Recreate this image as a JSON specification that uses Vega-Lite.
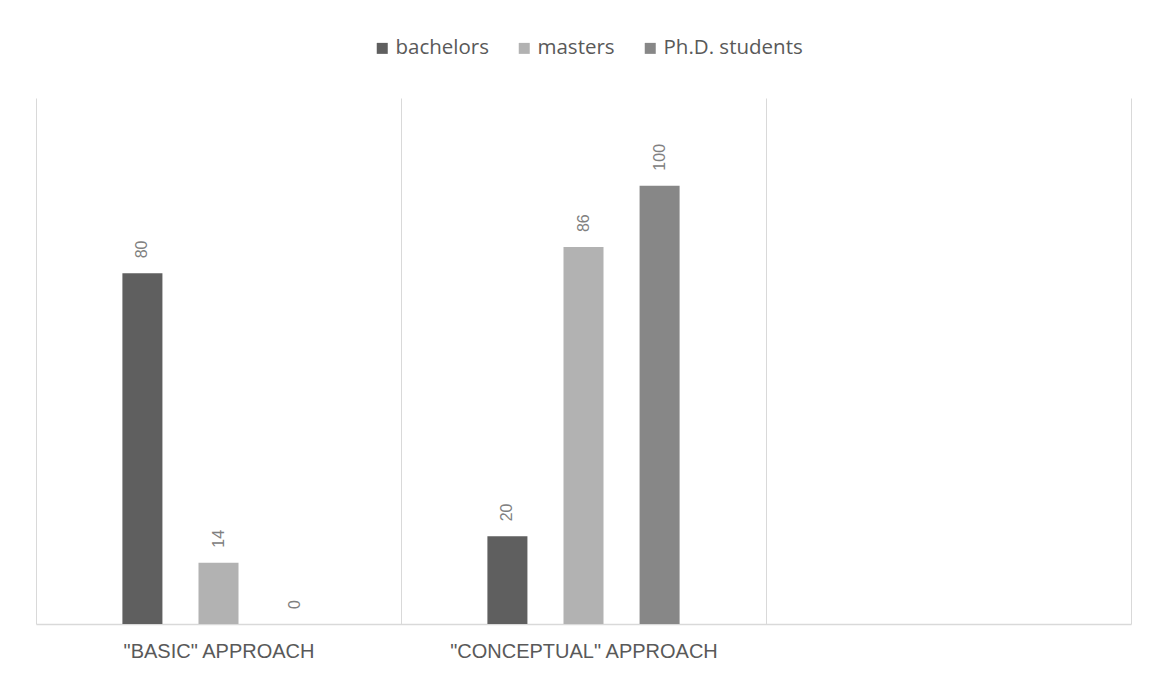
{
  "$schema": "https://vega.github.io/schema/vega-lite/v6.json",
  "width": 1095,
  "height": 526,
  "autosize": {"type": "none"},
  "padding": {"left": 36, "top": 98, "right": 19, "bottom": 52},
  "background": "white",
  "config": {"view": {"stroke": null}},
  "data": {
    "values": [
      {"approach": "\"BASIC\" APPROACH", "group": "bachelors", "value": 80},
      {"approach": "\"BASIC\" APPROACH", "group": "masters", "value": 14},
      {"approach": "\"BASIC\" APPROACH", "group": "Ph.D. students", "value": 0},
      {"approach": "\"CONCEPTUAL\" APPROACH", "group": "bachelors", "value": 20},
      {"approach": "\"CONCEPTUAL\" APPROACH", "group": "masters", "value": 86},
      {"approach": "\"CONCEPTUAL\" APPROACH", "group": "Ph.D. students", "value": 100}
    ]
  },
  "encoding": {
    "x": {
      "field": "approach",
      "type": "nominal",
      "sort": null,
      "title": null,
      "scale": {
        "domain": ["\"BASIC\" APPROACH", "\"CONCEPTUAL\" APPROACH", " "],
        "paddingInner": 0,
        "paddingOuter": 0
      },
      "axis": {
        "grid": true,
        "tickBand": "extent",
        "gridColor": "#d9d9d9",
        "gridWidth": 1,
        "domainColor": "#d9d9d9",
        "domainWidth": 1.5,
        "ticks": false,
        "labelAngle": 0,
        "labelLimit": 0,
        "labelFont": "Liberation Sans",
        "labelFontSize": 20,
        "labelColor": "#595959",
        "labelPadding": 17
      }
    },
    "xOffset": {
      "field": "group",
      "type": "nominal",
      "sort": ["bachelors", "masters", "Ph.D. students"],
      "scale": {"range": [86.4, 278.6], "paddingInner": 0.474, "paddingOuter": 0}
    },
    "y": {
      "field": "value",
      "type": "quantitative",
      "scale": {"domain": [0, 120]},
      "axis": null
    }
  },
  "layer": [
    {
      "mark": {"type": "bar"},
      "encoding": {
        "color": {
          "field": "group",
          "type": "nominal",
          "sort": ["bachelors", "masters", "Ph.D. students"],
          "scale": {
            "domain": ["bachelors", "masters", "Ph.D. students"],
            "range": ["#5f5f5f", "#b2b2b2", "#878787"]
          },
          "legend": {
            "title": null,
            "orient": "none",
            "direction": "horizontal",
            "legendX": 336,
            "legendY": -60,
            "symbolType": "square",
            "symbolSize": 121,
            "symbolStrokeWidth": 0,
            "labelFont": "Open Sans",
            "labelFontSize": 20.5,
            "labelColor": "#595959",
            "labelOffset": 3,
            "columnPadding": 25
          }
        }
      }
    },
    {
      "mark": {
        "type": "text",
        "angle": 270,
        "align": "left",
        "baseline": "middle",
        "dx": 15,
        "font": "Liberation Sans",
        "fontSize": 16,
        "color": "#808080"
      },
      "encoding": {
        "text": {"field": "value", "type": "quantitative"}
      }
    }
  ]
}
